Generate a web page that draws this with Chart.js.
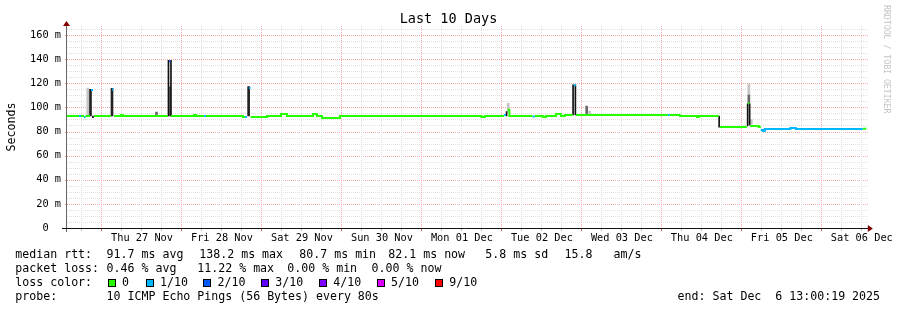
<!DOCTYPE html>
<html><head><meta charset="utf-8">
<script src="https://cdn.jsdelivr.net/npm/chart.js@4.4.1/dist/chart.umd.min.js"></script>
<style>
body{margin:0;background:#fff}
#wrap{position:relative;width:897px;height:310px;overflow:hidden;background:#fff}
#wrap canvas{position:absolute;left:0;top:0}
.lg{position:absolute;font-family:"DejaVu Sans Mono",monospace;font-size:11.6px;line-height:14px;white-space:pre;color:#000}
.sw{position:absolute;width:8px;height:8px;box-sizing:border-box;border:1px solid #000}
</style></head><body>
<div id="wrap"><canvas id="c" width="897" height="310"></canvas><div id="legend"></div></div>
<script>
// time axis = hours since Thu 26 Nov 00:00, value axis = ms
const xMin=13.5, xMax=253.5
const yMax=166.67

// median rtt steps: start hour, value (null = no median drawn), loss (n/10)
const stepHours=[13.5,17.1,17.7,18.6,19.05,20.4,20.7,21.3,21.6,26.7,27.0,27.45,27.6,29.7,30.3,43.8,44.1,44.55,44.7,51.6,52.2,54.6,55.2,66.3,66.9,67.5,68.1,68.6,73.5,77.7,79.5,87.3,88.5,90.0,95.4,137.85,138.9,144.6,145.2,145.7,146.25,153.15,153.9,156.3,157.2,160.2,161.7,162.9,165.3,165.6,166.2,193.8,194.4,197.4,202.5,203.1,209.1,209.4,217.5,217.8,218.25,218.4,221.1,221.7,222.3,222.9,230.55,232.2,252.3]
const stepMs=[92.9,92.9,92.9,92.0,92.9,null,114.4,null,92.9,null,114.8,null,92.9,93.7,92.9,null,138.2,null,92.9,93.7,92.9,92.9,92.9,92.0,92.0,null,116.1,92.0,92.9,94.5,92.9,94.5,92.9,91.2,92.9,92.0,92.9,93.7,null,98.1,92.9,92.5,92.9,92.0,92.9,94.5,92.9,93.7,null,118.3,93.7,93.7,93.7,92.9,92.0,92.9,null,83.7,null,103.4,null,84.6,83.7,81.3,80.4,82.1,82.9,82.1,82.3]
const stepLoss=[0,1,0,1,0,0,1,0,0,0,1,0,0,0,0,0,2,0,0,0,0,1,0,0,1,0,1,0,0,0,0,0,0,0,0,0,0,1,0,0,0,1,0,0,0,0,0,0,0,1,0,1,0,0,0,0,0,0,0,0,0,0,0,1,1,1,1,1,0]
const lastHour=253.35

// smoke: dark (many pings), mid, light
const darkHours=[20.55,27.0,68.0]
const darkLow=[92.9,92.9,92.9]
const darkHigh=[115.0,115.8,117.2]
const thinHours=[21.3,43.95,44.7,145.4,165.36,166.05,209.19,217.74,218.34]
const thinLow=[91.5,92.9,92.9,92.9,93.7,93.7,83.7,84.6,85.5]
const thinHigh=[92.9,139.0,139.0,96.5,118.8,118.8,92.9,103.0,103.0]
const midHours=[44.28,40.35,169.44,218.1]
const midLow=[92.9,92.9,93.7,103.4]
const midHigh=[117.0,96.2,101.2,110.3]
const lightHours=[19.74,145.91,170.31,218.1,218.85]
const lightLow=[92.9,96.0,93.7,110.3,86.0]
const lightHigh=[116.1,103.4,97.0,119.4,90.0]

const dayTicks=[36,60,84,108,132,156,180,204,228,252]
const dayLabels=['Thu 27 Nov','Fri 28 Nov','Sat 29 Nov','Sun 30 Nov','Mon 01 Dec','Tue 02 Dec','Wed 03 Dec','Thu 04 Dec','Fri 05 Dec','Sat 06 Dec']
const yTicks=[0,20,40,60,80,100,120,140,160]
const yLabels=['0  ','20 m','40 m','60 m','80 m','100 m','120 m','140 m','160 m']

const lossLabels=['0','1/10','2/10','3/10','4/10','5/10','9/10']
const lossColors=['#26ff00','#00b8ff','#0059ff','#5e00ff','#7e00ff','#dd00ff','#ff0000']

const mono='"DejaVu Sans Mono", monospace'
Chart.defaults.font.family=mono

function medianPoints(loss){
let pts=[]
for(let i=0;i<stepHours.length;i++){
let v=stepMs[i]
if(v===null||stepLoss[i]!==loss) continue
let t1=i+1<stepHours.length?stepHours[i+1]:lastHour
pts.push({x:stepHours[i],y:v},{x:t1,y:v})
let nxt=i+1<stepHours.length&&stepMs[i+1]!==null&&stepLoss[i+1]===loss
if(!nxt) pts.push({x:t1,y:null})
}
return pts
}
function lineDs(loss){
return {type:'line',data:medianPoints(loss),borderColor:lossColors[loss],borderWidth:2,
pointRadius:0,tension:0,fill:false,spanGaps:false}
}
function smokeDs(h,lo,hi,color,w){
return {type:'bar',data:h.map((v,i)=>({x:v,y:[lo[i],hi[i]]})),backgroundColor:color,
barThickness:w,grouped:false,borderWidth:0,borderSkipped:false}
}

const minorCol='#e0e0e0', majorCol='#f4a8a8'
const frame={
id:'frame',
beforeDatasetsDraw(chart){
const {ctx,chartArea:a,scales:{x,y}}=chart
ctx.save()
ctx.lineWidth=1
ctx.setLineDash([1,1])
for(let v=5;v<yMax;v+=5){
let py=Math.round(y.getPixelForValue(v))+0.5
ctx.strokeStyle=v%20===0?majorCol:minorCol
ctx.beginPath();ctx.moveTo(v%20===0?a.left-2:a.left,py);ctx.lineTo(a.right+1,py);ctx.stroke()
}
for(let h=Math.ceil(xMin/6)*6;h<=xMax;h+=6){
let px=Math.floor(x.getPixelForValue(h))+0.5
ctx.strokeStyle=h%24===0?majorCol:minorCol
ctx.beginPath();ctx.moveTo(px,a.top-1);ctx.lineTo(px,a.bottom);ctx.stroke()
}
ctx.restore()
},
afterDraw(chart){
const {ctx,chartArea:a,scales:{x}}=chart
ctx.save()
// title
ctx.fillStyle='#000'
ctx.font='13.5px '+mono
ctx.textAlign='center';ctx.textBaseline='middle'
ctx.fillText('Last 10 Days',chart.width/2,19)
// axes
ctx.lineWidth=1
ctx.strokeStyle='#666'
ctx.beginPath();ctx.moveTo(a.left-0.5,a.top-3);ctx.lineTo(a.left-0.5,a.bottom+4);ctx.stroke()
ctx.strokeStyle='#111'
ctx.beginPath();ctx.moveTo(a.left-5,a.bottom+0.5);ctx.lineTo(a.right+2,a.bottom+0.5);ctx.stroke()
for(let h=Math.ceil(xMin/6)*6;h<=xMax;h+=6){
let px=Math.floor(x.getPixelForValue(h))+0.5
ctx.strokeStyle=h%24===0?'#e06060':'#bbb'
ctx.beginPath();ctx.moveTo(px,a.bottom+1);ctx.lineTo(px,a.bottom+3);ctx.stroke()
}
// arrows
ctx.fillStyle='#800000'
ctx.beginPath();ctx.moveTo(a.left-4,a.top-1);ctx.lineTo(a.left+3,a.top-1);ctx.lineTo(a.left-0.5,a.top-6);ctx.closePath();ctx.fill()
ctx.beginPath();ctx.moveTo(a.right+1,a.bottom-3);ctx.lineTo(a.right+1,a.bottom+4);ctx.lineTo(a.right+6,a.bottom+0.5);ctx.closePath();ctx.fill()
// unit label
ctx.fillStyle='#000'
ctx.font='11.6px '+mono
ctx.translate(15,127);ctx.rotate(-Math.PI/2)
ctx.textAlign='center';ctx.textBaseline='alphabetic'
ctx.fillText('Seconds',0,0)
ctx.setTransform(1,0,0,1,0,0)
// watermark
ctx.fillStyle='#c4c4c4'
ctx.font='8.2px '+mono
ctx.translate(883.5,5);ctx.rotate(Math.PI/2)
ctx.textAlign='left';ctx.textBaseline='alphabetic'
ctx.fillText('RRDTOOL / TOBI OETIKER',0,0)
ctx.restore()
}
}

new Chart(document.getElementById('c'),{
type:'line',
data:{datasets:[
lineDs(0),lineDs(1),lineDs(2),
smokeDs(thinHours,thinLow,thinHigh,'#111',1),
smokeDs(darkHours,darkLow,darkHigh,'#222',2),
smokeDs(midHours,midLow,midHigh,'#6a6a6a',2),
smokeDs(lightHours,lightLow,lightHigh,'#c4c4c4',2)
]},
options:{
responsive:false,animation:false,
layout:{padding:{left:0,right:30,top:27,bottom:62}},
plugins:{legend:{display:false},tooltip:{enabled:false},title:{display:false}},
scales:{
x:{type:'linear',min:xMin,max:xMax,offset:false,
grid:{display:false,drawTicks:false},border:{display:false},
afterBuildTicks:s=>{s.ticks=dayTicks.map(v=>({value:v}))},
afterFit:s=>{s.height=20},
ticks:{autoSkip:false,maxRotation:0,padding:4,color:'#000',font:{family:mono,size:10.3},
callback:v=>dayLabels[dayTicks.indexOf(v)]}},
y:{type:'linear',min:0,max:yMax,
grid:{display:false,drawTicks:false},border:{display:false},
afterBuildTicks:s=>{s.ticks=yTicks.map(v=>({value:v}))},
afterFit:s=>{s.width=67},
ticks:{autoSkip:false,padding:6,color:'#000',font:{family:mono,size:10.3},
callback:v=>yLabels[yTicks.indexOf(v)]}}
}
},
plugins:[frame]
})

// legend text
const legendRows=[
[['median rtt:',16],['91.7 ms avg',107.3],['138.2 ms max',200],['80.7 ms min',300],['82.1 ms now',389],['5.8 ms sd',486],['15.8   am/s',565.3]],
[['packet loss:',16],['0.46 % avg',107.3],['11.22 % max',198],['0.00 % min',288],['0.00 % now',372.3]],
[['loss color:',16]],
[['probe:',16],['10 ICMP Echo Pings (56 Bytes) every 80s',107.3],['end: Sat Dec  6 13:00:19 2025',678.3]]
]
const rowTop=[247,261,275,289]
const swLeft=[108,146,203,261,319,376.5,435]
const swText=[122.7,160.7,218.3,276,334,391.7,450]
const lg=document.getElementById('legend')
function put(txt,x,top){
let d=document.createElement('div')
d.className='lg';d.textContent=txt
d.style.left=(x-0.7)+'px';d.style.top=top+'px'
lg.appendChild(d)
}
legendRows.forEach((row,r)=>row.forEach(p=>put(p[0],p[1],rowTop[r])))
lossLabels.forEach((l,i)=>{
let b=document.createElement('div')
b.className='sw';b.style.background=lossColors[i]
b.style.left=swLeft[i]+'px';b.style.top=(rowTop[2]+3.5)+'px'
lg.appendChild(b)
put(l,swText[i],rowTop[2])
})
</script>
</body></html>
